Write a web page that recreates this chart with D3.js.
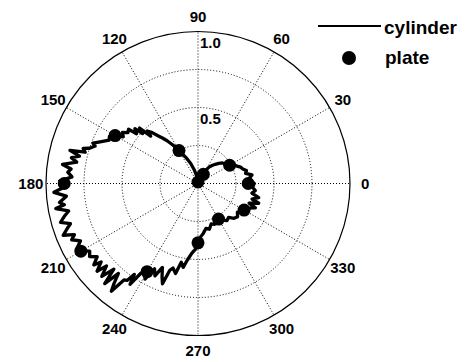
<!DOCTYPE html>
<html lang="en">
<head>
	<meta charset="UTF-8">
	<title>Polar pattern: cylinder vs plate</title>
	<style type="text/css">
		body{
			margin: 0;
			background: #fff;
			font-family: "Liberation Sans", Arial, sans-serif;
		}
		.grid {
			fill: none;
			stroke: #000;
			stroke-width: 1;
			stroke-dasharray: 1,2;
		}
		.tick-label {
			font-size: 15px;
			font-weight: bold;
			fill: #000;
		}
		.legend text {
			font-size: 19px;
			font-weight: bold;
			fill: #000;
		}
	</style>
	<script src="https://d3js.org/d3.v7.min.js"></script>
</head>
<body>
<script type="text/javascript">
	// angles in degrees, radii
	var angleTicks = [0, 30, 60, 90, 120, 150, 180, 210, 240, 270, 300, 330];
	var ringValues = [0.25, 0.5, 0.75];
	var radiusLabels = ["0.5", "1.0"];

	var cylinderAngle = [
		0, 3, 6, 9, 12, 15, 18, 21, 24, 27,
		30, 33, 36, 40, 44, 48, 52, 56, 60, 65,
		70, 80, 90, 100, 105, 110, 115, 120, 123, 126,
		128, 130, 132, 134, 135, 136.5, 138, 139, 141, 142,
		144, 146, 148, 150, 152, 154, 157, 159, 160, 162,
		163, 164.5, 165.5, 167, 168.5, 170, 172, 173.5, 175, 177,
		179, 181, 183.5, 185.5, 187.8, 189, 190, 192, 193.5, 195.8,
		197.5, 199, 201, 202.5, 204, 206, 208, 210, 212, 214,
		216, 218, 219, 221, 222, 224, 225.5, 227, 228.5, 230,
		231.2, 232.5, 233.8, 235, 236, 237.5, 239, 241, 243, 245,
		247, 249, 250.5, 252, 253.5, 256, 258, 260, 262, 265,
		268, 270, 273, 276, 280, 284, 288, 292, 296, 300,
		304, 308, 312, 316, 320, 324, 328, 332, 334, 337,
		339, 342, 344, 347, 350, 353, 356
	];
	var cylinderR = [
		0.37, 0.35, 0.34, 0.36, 0.32, 0.33, 0.31, 0.30, 0.28, 0.27,
		0.25, 0.24, 0.22, 0.21, 0.19, 0.17, 0.15, 0.13, 0.10, 0.08,
		0.06, 0.04, 0.03, 0.05, 0.09, 0.14, 0.19, 0.25, 0.30, 0.35,
		0.38, 0.41, 0.45, 0.48, 0.44, 0.53, 0.49, 0.55, 0.52, 0.58,
		0.57, 0.60, 0.58, 0.63, 0.66, 0.65, 0.70, 0.74, 0.72, 0.75,
		0.79, 0.77, 0.87, 0.80, 0.85, 0.81, 0.90, 0.84, 0.86, 0.83,
		0.91, 0.86, 0.95, 0.87, 0.92, 0.89, 0.95, 0.87, 0.90, 0.94,
		0.88, 0.91, 0.95, 0.88, 0.91, 0.86, 0.90, 0.89, 0.84, 0.86,
		0.82, 0.87, 0.82, 0.88, 0.81, 0.88, 0.79, 0.90, 0.79, 0.86,
		0.91, 0.80, 0.79, 0.73, 0.80, 0.70, 0.67, 0.72, 0.63, 0.67,
		0.60, 0.66, 0.70, 0.60, 0.58, 0.61, 0.53, 0.56, 0.51, 0.46,
		0.43, 0.39, 0.35, 0.33, 0.30, 0.31, 0.28, 0.29, 0.27, 0.27,
		0.29, 0.31, 0.30, 0.33, 0.34, 0.32, 0.36, 0.35, 0.37, 0.41,
		0.36, 0.42, 0.37, 0.41, 0.36, 0.38, 0.36
	];

	var plateAngle = [0, 30, 60, 90, 120, 150, 180, 210, 240, 270, 300, 330];
	var plateR = [0.33, 0.24, 0.07, 0.01, 0.25, 0.63, 0.88, 0.89, 0.67, 0.39, 0.27, 0.35];

	// canvas
	var fullWidth = 469, fullHeight = 362;
	var cx = 198, cy = 183.5, R = 152;

	var svg = d3.select('body')
		.append('svg')
		.attr('width', fullWidth)
		.attr('height', fullHeight);

	var g = svg.append('g')
		.attr('transform', 'translate(' + cx + ',' + cy + ')');

	// radius scale, 1.0 at the outer circle
	var r = d3.scaleLinear().domain([0, 1]).range([0, R]);

	// lineRadial wants radians clockwise from 12 o'clock
	function toRad(deg) { return (90 - deg) * Math.PI / 180; }
	function px(deg, v) { return r(v) * Math.cos(deg * Math.PI / 180); }
	function py(deg, v) { return -r(v) * Math.sin(deg * Math.PI / 180); }

	// dotted rings
	g.selectAll('.ring')
		.data(ringValues)
		.enter().append('circle')
		.attr('class', 'grid')
		.attr('r', function(d){ return r(d); });

	// dotted spokes
	g.selectAll('.spoke')
		.data(angleTicks)
		.enter().append('line')
		.attr('class', 'grid')
		.attr('x1', 0).attr('y1', 0)
		.attr('x2', function(d){ return px(d, 1); })
		.attr('y2', function(d){ return py(d, 1); });

	// outer circle
	g.append('circle')
		.attr('r', r(1))
		.attr('fill', 'none')
		.attr('stroke', '#000')
		.attr('stroke-width', 1.2);

	// angle labels
	g.selectAll('.angle-label')
		.data(angleTicks)
		.enter().append('text')
		.attr('class', 'tick-label')
		.attr('x', function(d){ return px(d, 1.1); })
		.attr('y', function(d){ return py(d, 1.1); })
		.attr('text-anchor', 'middle')
		.attr('dominant-baseline', 'central')
		.text(function(d){ return d; });

	// radius labels along the 90 spoke
	g.selectAll('.radius-label')
		.data(radiusLabels)
		.enter().append('text')
		.attr('class', 'tick-label')
		.attr('x', 2)
		.attr('y', function(d){ return -r(+d) + 11; })
		.attr('dominant-baseline', 'central')
		.text(function(d){ return d; });

	// cylinder curve
	var cylinder = cylinderAngle.map(function(a, i){ return [toRad(a), r(cylinderR[i])]; });
	var radial = d3.lineRadial()
		.angle(function(d){ return d[0]; })
		.radius(function(d){ return d[1]; })
		.curve(d3.curveLinearClosed);

	g.append('path')
		.datum(cylinder)
		.attr('d', radial)
		.attr('fill', 'none')
		.attr('stroke', '#000')
		.attr('stroke-width', 3.3)
		.attr('stroke-linejoin', 'round');

	// plate points
	g.selectAll('.plate')
		.data(plateAngle)
		.enter().append('circle')
		.attr('cx', function(d, i){ return px(d, plateR[i]); })
		.attr('cy', function(d, i){ return py(d, plateR[i]); })
		.attr('r', 6.5)
		.attr('fill', '#000');

	// legend
	var legend = svg.append('g').attr('class', 'legend');
	legend.append('line')
		.attr('x1', 318).attr('x2', 381)
		.attr('y1', 26).attr('y2', 26)
		.attr('stroke', '#000')
		.attr('stroke-width', 2.2);
	legend.append('text').attr('x', 384).attr('y', 34).text('cylinder');
	legend.append('circle')
		.attr('cx', 349).attr('cy', 58).attr('r', 7)
		.attr('fill', '#000');
	legend.append('text').attr('x', 385).attr('y', 64).text('plate');
</script>
</body>
</html>
